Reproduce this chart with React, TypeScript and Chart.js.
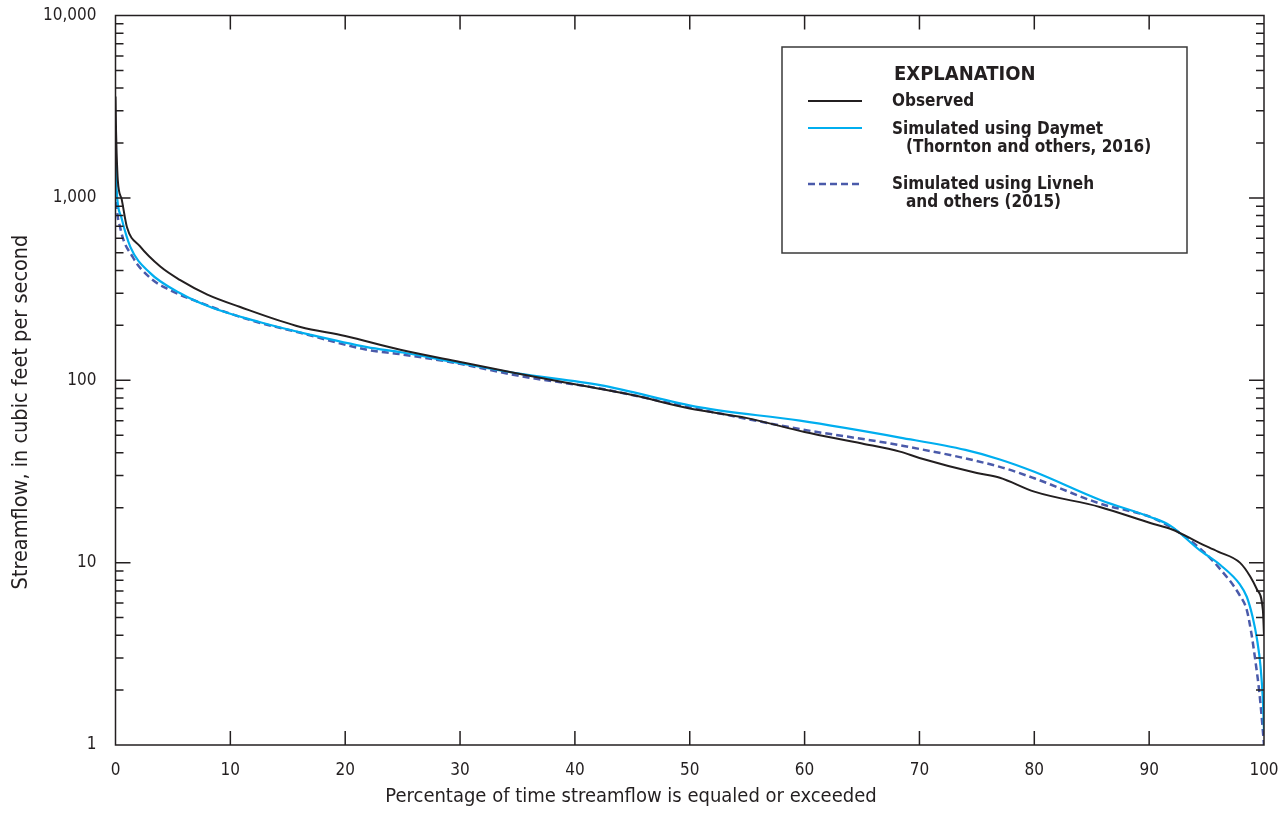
import React, { useEffect, useRef } from "react";
import { Chart, registerables } from "chart.js";

Chart.register(...registerables);

const FONT = "'Liberation Sans Narrow', 'DejaVu Sans Condensed', 'Arial Narrow', sans-serif";
const INK = "#231f20";
const BLUE = "#00aeef";
const PURPLE = "#4a5aaa";

// Axis ticks
const xTickValues = [0, 10, 20, 30, 40, 50, 60, 70, 80, 90, 100];
const yTickLabels = [1, 10, 100, 1000, 10000];

// Observed
const observedPct = [0, 0.05, 0.1, 0.2, 0.55, 1.0, 2.1, 3.9, 5.6, 8, 10.8, 16.1, 20, 24.8, 30, 35, 40, 45, 50, 55, 60, 65, 68.3, 70, 75, 77, 80, 85.7, 90.1, 92, 94.4, 96, 97.9, 98.8, 99.4, 99.9, 100];
const observedFlow = [3600, 2300, 1750, 1250, 975, 690, 545, 420, 355, 295, 253, 196, 175, 147, 126, 109, 95, 83, 70, 62, 52, 45, 40.6, 37.5, 31, 29.2, 24.5, 20.2, 16.5, 15.2, 12.8, 11.5, 10, 8.4, 7.1, 5.5, 4];

// Simulated using Daymet
const daymetPct = [0, 0.05, 0.1, 0.5, 1.3, 3, 5.6, 8.2, 12.6, 16.9, 21.9, 25, 30, 35, 42.2, 50.9, 59.6, 68.3, 74, 77, 80, 85.8, 90.1, 91.8, 94.4, 96.2, 97.9, 98.5, 99, 99.4, 99.7, 99.9, 100];
const daymetFlow = [2000, 1400, 1100, 785, 537, 388, 301, 253, 208, 178, 152, 142, 124, 109, 94, 71, 60, 48.5, 41.5, 36.8, 31.5, 22, 17.8, 16, 11.7, 9.7, 7.6, 6.5, 5.06, 3.77, 2.69, 1.77, 1.2];

// Simulated using Livneh
const livnehPct = [0, 0.05, 0.1, 0.4, 1.5, 3, 4.7, 7.4, 11.7, 16.1, 21.9, 24.8, 30, 35, 42.2, 50, 59.6, 68.3, 77, 80, 85.8, 90.1, 92, 94.4, 96, 97.9, 98.5, 98.9, 99.2, 99.6, 99.9, 100];
const livnehFlow = [1900, 1200, 950, 692, 474, 365, 313, 266, 214, 182, 147, 139, 123, 106, 90, 71, 54, 44, 33.5, 29, 21, 17.8, 15.5, 12, 9.5, 6.6, 5.5, 4.1, 3.05, 1.93, 1.2, 1.0];

const legendTitle = "EXPLANATION";
const legendLines = [
  ["Observed"],
  ["Simulated using Daymet", "(Thornton and others, 2016)"],
  ["Simulated using Livneh", "and others (2015)"],
];
const xTitle = "Percentage of time streamflow is equaled or exceeded";
const yTitle = "Streamflow, in cubic feet per second";

export default function App() {
  const ref = useRef<HTMLCanvasElement>(null);

  useEffect(() => {
    if (!ref.current) return;
    const toPts = (xs: number[], ys: number[]) => xs.map((x, i) => ({ x, y: ys[i] }));

    const framePlugin = {
      id: "frameTicks",
      afterDatasetsDraw(chart: any) {
        const { ctx, chartArea: a, scales } = chart;
        const xs = scales.x;
        const ys = scales.y;
        ctx.save();
        ctx.strokeStyle = INK;
        ctx.lineWidth = 1.5;
        ctx.beginPath();
        for (const v of xTickValues) {
          if (v === 0 || v === 100) continue;
          const px = xs.getPixelForValue(v);
          ctx.moveTo(px, a.bottom);
          ctx.lineTo(px, a.bottom - 14);
          ctx.moveTo(px, a.top);
          ctx.lineTo(px, a.top + 14);
        }
        for (let d = 1; d <= 1000; d *= 10) {
          for (let m = 1; m <= 9; m++) {
            const v = d * m;
            if (v === 1) continue;
            const len = m === 1 ? 15 : 8;
            const py = ys.getPixelForValue(v);
            ctx.moveTo(a.left, py);
            ctx.lineTo(a.left + len, py);
            ctx.moveTo(a.right, py);
            ctx.lineTo(a.right - len, py);
          }
        }
        ctx.stroke();
        ctx.strokeRect(a.left, a.top, a.right - a.left, a.bottom - a.top);

        // axis titles
        ctx.fillStyle = INK;
        ctx.textAlign = "center";
        ctx.textBaseline = "middle";
        ctx.font = `20px ${FONT}`;
        ctx.fillText(xTitle, 631, 797);
        ctx.font = `21.5px ${FONT}`;
        ctx.save();
        ctx.translate(21, 412);
        ctx.rotate(-Math.PI / 2);
        ctx.fillText(yTitle, 0, 0);
        ctx.restore();
        ctx.restore();
      },
      afterDraw(chart: any) {
        const { ctx } = chart;
        ctx.save();
        ctx.fillStyle = "#ffffff";
        ctx.fillRect(782, 47, 405, 206);
        ctx.strokeStyle = "#3a3a3a";
        ctx.lineWidth = 1.5;
        ctx.strokeRect(782, 47, 405, 206);

        ctx.fillStyle = INK;
        ctx.textAlign = "left";
        ctx.textBaseline = "middle";
        ctx.font = `bold 20px ${FONT}`;
        ctx.fillText(legendTitle, 894, 75);

        const ds = chart.data.datasets;
        const lineYs = [101, 128, 184];
        const textYs = [[102], [130, 148], [185, 203]];
        const indents = [0, 906, 906];
        ctx.font = `bold 17px ${FONT}`;
        for (let i = 0; i < 3; i++) {
          ctx.save();
          ctx.strokeStyle = ds[i].borderColor;
          ctx.lineWidth = ds[i].borderWidth;
          ctx.setLineDash(ds[i].borderDash || []);
          ctx.beginPath();
          ctx.moveTo(808, lineYs[i]);
          ctx.lineTo(862, lineYs[i]);
          ctx.stroke();
          ctx.restore();
          legendLines[i].forEach((t, j) => {
            const x = j === 0 ? 892 : indents[i];
            ctx.fillText(t, x, textYs[i][j]);
          });
        }
        ctx.restore();
      },
    };

    const chart = new Chart(ref.current, {
      type: "line",
      data: {
        datasets: [
          {
            label: legendLines[0][0],
            data: toPts(observedPct, observedFlow),
            borderColor: INK,
            borderWidth: 2,
            pointRadius: 0,
            cubicInterpolationMode: "monotone",
            fill: false,
          },
          {
            label: legendLines[1].join(" "),
            data: toPts(daymetPct, daymetFlow),
            borderColor: BLUE,
            borderWidth: 2.2,
            pointRadius: 0,
            cubicInterpolationMode: "monotone",
            fill: false,
          },
          {
            label: legendLines[2].join(" "),
            data: toPts(livnehPct, livnehFlow),
            borderColor: PURPLE,
            borderWidth: 2.5,
            borderDash: [7, 4],
            pointRadius: 0,
            cubicInterpolationMode: "monotone",
            fill: false,
          },
        ],
      },
      options: {
        animation: false,
        responsive: false,
        maintainAspectRatio: false,
        layout: { padding: { top: 15.5, right: 16, bottom: 0, left: 0 } },
        plugins: { legend: { display: false }, tooltip: { enabled: false } },
        scales: {
          x: {
            type: "linear",
            min: 0,
            max: 100,
            afterBuildTicks: (s: any) => {
              s.ticks = xTickValues.map((v) => ({ value: v }));
            },
            ticks: {
              color: INK,
              font: { family: FONT, size: 17 },
              padding: 15,
              maxRotation: 0,
              autoSkip: false,
            },
            grid: { display: false, drawTicks: false },
            border: { display: false },
            afterFit: (s: any) => {
              s.height = 68;
              s.paddingLeft = 0;
              s.paddingRight = 0;
            },
          },
          y: {
            type: "logarithmic",
            min: 1,
            max: 10000,
            afterBuildTicks: (s: any) => {
              s.ticks = yTickLabels.map((v) => ({ value: v, major: true }));
            },
            ticks: {
              color: INK,
              font: { family: FONT, size: 17 },
              padding: 19,
              autoSkip: false,
              callback: (v: any) => Number(v).toLocaleString("en-US"),
            },
            grid: { display: false, drawTicks: false },
            border: { display: false },
            afterFit: (s: any) => {
              s.width = 115.5;
              s.paddingTop = 0;
              s.paddingBottom = 0;
            },
          },
        },
      },
      plugins: [framePlugin],
    } as any);

    return () => chart.destroy();
  }, []);

  return (
    <div style={{ position: "absolute", left: 0, top: 0, width: 1280, height: 813, background: "#fff" }}>
      <canvas ref={ref} width={1280} height={813} style={{ display: "block" }} />
    </div>
  );
}
